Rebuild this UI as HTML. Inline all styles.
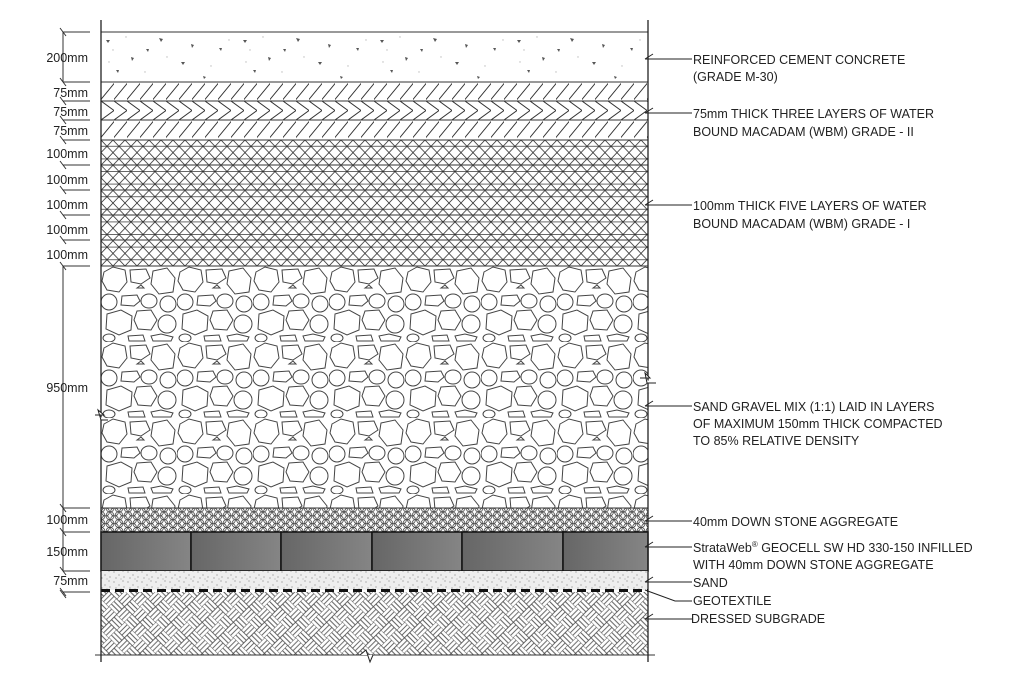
<!DOCTYPE html>
<html><head><meta charset="utf-8"><style>
html,body{margin:0;padding:0;background:#fff;}
svg{display:block;}
text{font-family:"Liberation Sans",sans-serif;fill:#222;}
</style></head><body>
<svg width="1024" height="688" viewBox="0 0 1024 688" xmlns="http://www.w3.org/2000/svg">
<defs>
<pattern id="conc" width="137" height="50" patternUnits="userSpaceOnUse" x="101" y="32">
<g fill="#555">
<path d="M5 8 l4 0 l-2 3z"/><path d="M30 25 l3 1 l-2 3z"/><path d="M58 6 l4 1 l-2 3z"/>
<path d="M15 38 l3 0 l-1 3z"/><path d="M80 30 l4 0 l-2 3z"/><path d="M102 44 l3 1 l-2 2z"/>
<path d="M118 16 l3 0 l-1 3z"/><path d="M90 12 l3 1 l-2 3z"/><path d="M45 17 l3 0 l-1 3z"/>
</g>
<g fill="#bbb"><circle cx="12" cy="18" r=".7"/><circle cx="66" cy="25" r=".7"/><circle cx="110" cy="34" r=".7"/><circle cx="25" cy="5" r=".7"/><circle cx="8" cy="30" r=".7"/><circle cx="44" cy="40" r=".7"/><circle cx="128" cy="8" r=".7"/></g>
</pattern>
<pattern id="chev1" width="13" height="19" patternUnits="userSpaceOnUse" x="101" y="82">
<path d="M-3 21 L16 -2" stroke="#333" stroke-width="1"/>
</pattern>
<pattern id="chev2" width="13" height="19" patternUnits="userSpaceOnUse" x="101" y="101">
<path d="M0 0 L13 9.5 L0 19" fill="none" stroke="#333" stroke-width="1"/>
</pattern>
<pattern id="tri" width="12" height="12.6" patternUnits="userSpaceOnUse" x="101" y="140">
<path d="M0 0 L12 12.6 M12 0 L0 12.6 M0 6.3 H12" stroke="#333" stroke-width=".8" fill="none"/>
</pattern>
<pattern id="grav" width="76" height="76" patternUnits="userSpaceOnUse" x="101" y="266">
<g fill="#fff" stroke="#444" stroke-width="1">
<path d="M3 6 L12 1 L24 4 L26 16 L18 26 L6 24 L1 15z"/><path d="M29 4 L45 3 L49 12 L40 18 L30 16z"/><path d="M52 5 L66 2 L74 12 L72 26 L58 28 L50 18z"/>
<ellipse cx="8" cy="36" rx="8" ry="8"/><path d="M21 30 L36 29 L39 35 L33 40 L20 39z"/><ellipse cx="48" cy="35" rx="8" ry="7"/><ellipse cx="67" cy="38" rx="8" ry="8"/>
<path d="M6 48 L20 44 L31 50 L30 64 L18 69 L5 63z"/><path d="M36 45 L50 44 L56 54 L50 64 L37 63 L33 54z"/><ellipse cx="66" cy="58" rx="9" ry="9"/>
<path d="M27 70 L42 69 L44 75 L28 75z"/><ellipse cx="8" cy="72" rx="6" ry="4"/><path d="M50 70 L60 68 L72 71 L70 75 L52 75z"/><path d="M36 22 l4 -3 l3 3z"/>
</g>
</pattern>
<pattern id="hex" width="9" height="7.8" patternUnits="userSpaceOnUse" x="101" y="508">
<g fill="none" stroke="#444" stroke-width=".8">
<circle cx="0" cy="0" r="4"/><circle cx="9" cy="0" r="4"/><circle cx="4.5" cy="3.9" r="4"/><circle cx="0" cy="7.8" r="4"/><circle cx="9" cy="7.8" r="4"/>
</g>
</pattern>
<pattern id="sand" width="14" height="10" patternUnits="userSpaceOnUse">
<rect width="14" height="10" fill="#eee"/>
<g fill="#888"><circle cx="2" cy="2" r=".6"/><circle cx="7" cy="5" r=".6"/><circle cx="11" cy="1" r=".6"/><circle cx="4" cy="8" r=".6"/><circle cx="12" cy="7" r=".6"/><circle cx="9" cy="9" r=".5"/></g>
</pattern>
<pattern id="bask" width="22" height="22" patternUnits="userSpaceOnUse" patternTransform="rotate(45)">
<g stroke="#444" stroke-width=".8" fill="none">
<path d="M0 0 V11 M3.7 0 V11 M7.3 0 V11 M11 0 V11"/>
<path d="M11 11 V22 M14.7 11 V22 M18.3 11 V22 M22 11 V22"/>
<path d="M11 0 H22 M11 3.7 H22 M11 7.3 H22 M11 11 H22"/>
<path d="M0 11 H11 M0 14.7 H11 M0 18.3 H11 M0 22 H11"/>
</g>
</pattern>
<linearGradient id="cell" x1="0" x2="1"><stop offset="0" stop-color="#666"/><stop offset="1" stop-color="#858585"/></linearGradient>
</defs>

<rect x="101" y="32" width="547" height="50" fill="url(#conc)"/>
<rect x="101" y="82" width="547" height="19" fill="url(#chev1)"/>
<rect x="101" y="101" width="547" height="19" fill="url(#chev2)"/>
<rect x="101" y="120" width="547" height="20" fill="url(#chev1)"/>
<rect x="101" y="140" width="547" height="126" fill="url(#tri)"/>
<rect x="101" y="266" width="547" height="242" fill="url(#grav)"/>
<rect x="101" y="508" width="547" height="24" fill="url(#hex)"/>
<rect x="101" y="532" width="547" height="39" fill="#777"/>
<g fill="url(#cell)" stroke="#111" stroke-width="1.5">
<rect x="101" y="532" width="90" height="39"/><rect x="191" y="532" width="90" height="39"/><rect x="281" y="532" width="91" height="39"/><rect x="372" y="532" width="90" height="39"/><rect x="462" y="532" width="101" height="39"/><rect x="563" y="532" width="85" height="39"/>
</g>
<rect x="101" y="571" width="547" height="19" fill="url(#sand)"/>
<rect x="101" y="592" width="547" height="63" fill="url(#bask)"/>
<line x1="101" y1="590.5" x2="648" y2="590.5" stroke="#111" stroke-width="3" stroke-dasharray="9,5"/>

<g stroke="#333" stroke-width="1">
<line x1="101" y1="32" x2="648" y2="32"/><line x1="101" y1="82" x2="648" y2="82"/>
<line x1="101" y1="101" x2="648" y2="101"/><line x1="101" y1="120" x2="648" y2="120"/>
<line x1="101" y1="140" x2="648" y2="140"/>
<line x1="101" y1="165" x2="648" y2="165"/><line x1="101" y1="190" x2="648" y2="190"/><line x1="101" y1="215" x2="648" y2="215"/><line x1="101" y1="240" x2="648" y2="240"/>
<line x1="101" y1="266" x2="648" y2="266"/><line x1="101" y1="508" x2="648" y2="508"/>
<line x1="95" y1="655" x2="655" y2="655"/>
</g>
<g stroke="#222" stroke-width="1.3">
<line x1="101" y1="20" x2="101" y2="662"/><line x1="648" y1="20" x2="648" y2="662"/>
</g>
<path d="M95 415 H104 L98 410 L101 420 H108" fill="#fff" stroke="#222"/>
<path d="M640 378 H650 L645 373 L647 383 H656" fill="#fff" stroke="#222"/>
<path d="M360 655 L366 650 L370 662 L373 655" fill="#fff" stroke="#222"/>

<g stroke="#333" stroke-width="1" fill="none">
<line x1="63" y1="32" x2="63" y2="82"/>
<line x1="63" y1="266" x2="63" y2="508"/>
<line x1="63" y1="508" x2="63" y2="532"/>
<line x1="63" y1="532" x2="63" y2="571"/>
<path d="M63 32 H90 M63 82 H90 M63 101 H90 M63 120 H90 M63 140 H90 M63 165 H90 M63 190 H90 M63 215 H90 M63 240 H90 M63 266 H90 M63 508 H90 M63 532 H90 M63 571 H90 M63 592 H90"/>
<path d="M60 28 l6 8 M60 78 l6 8 M60 262 l6 8 M60 504 l6 8 M60 528 l6 8 M60 567 l6 8 M60 588 l6 8 M60 97 l6 8 M60 116 l6 8 M60 136 l6 8 M60 161 l6 8 M60 186 l6 8 M60 211 l6 8 M60 236 l6 8 M60 590 l6 8"/>
</g>
<g font-size="12.5" text-anchor="end">
<text x="88" y="62">200mm</text>
<text x="88" y="97">75mm</text>
<text x="88" y="116">75mm</text>
<text x="88" y="135">75mm</text>
<text x="88" y="158">100mm</text>
<text x="88" y="184">100mm</text>
<text x="88" y="209">100mm</text>
<text x="88" y="234">100mm</text>
<text x="88" y="259">100mm</text>
<text x="88" y="392">950mm</text>
<text x="88" y="524">100mm</text>
<text x="88" y="556">150mm</text>
<text x="88" y="585">75mm</text>
</g>

<g stroke="#222" stroke-width="1" fill="none">
<path d="M645 59 H692 M645 59 l8 -5"/>
<path d="M645 113 H692 M645 113 l8 -5"/>
<path d="M645 205 H692 M645 205 l8 -5"/>
<path d="M645 406 H692 M645 406 l8 -5"/>
<path d="M645 521 H692 M645 521 l8 -5"/>
<path d="M645 547 H692 M645 547 l8 -5"/>
<path d="M645 582 H692 M645 582 l8 -5"/>
<path d="M645 590 L675 601 H692"/>
<path d="M645 619 H692 M645 619 l8 -5"/>
</g>
<g font-size="12.5">
<text x="693" y="64">REINFORCED CEMENT CONCRETE</text>
<text x="693" y="81">(GRADE M-30)</text>
<text x="693" y="118">75mm THICK THREE LAYERS OF WATER</text>
<text x="693" y="136">BOUND MACADAM (WBM) GRADE - II</text>
<text x="693" y="210">100mm THICK FIVE LAYERS OF WATER</text>
<text x="693" y="228">BOUND MACADAM (WBM) GRADE - I</text>
<text x="693" y="411">SAND GRAVEL MIX (1:1) LAID IN LAYERS</text>
<text x="693" y="428">OF MAXIMUM 150mm THICK COMPACTED</text>
<text x="693" y="445">TO 85% RELATIVE DENSITY</text>
<text x="693" y="526">40mm DOWN STONE AGGREGATE</text>
<text x="693" y="552">StrataWeb<tspan font-size="8" dy="-5">®</tspan><tspan dy="5"> GEOCELL SW HD 330-150 INFILLED</tspan></text>
<text x="693" y="569">WITH 40mm DOWN STONE AGGREGATE</text>
<text x="693" y="587">SAND</text>
<text x="693" y="605">GEOTEXTILE</text>
<text x="691" y="623">DRESSED SUBGRADE</text>
</g>
</svg>
</body></html>
